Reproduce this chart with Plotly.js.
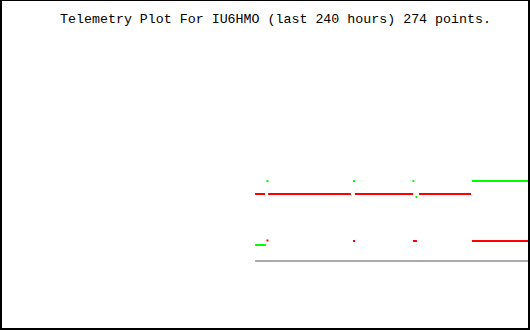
<!DOCTYPE html>
<html>
<head>
<meta charset="utf-8">
<script src="https://cdn.plot.ly/plotly-3.0.1.min.js"></script>
<style>html,body{margin:0;padding:0;background:#fff;}#chart{width:530px;height:330px;}</style>
</head>
<body>
<div id="chart"></div>
<script>
// Hours relative to now (x) and telemetry values (arbitrary units)
var redHours    = [-124.5, -120.0, -119.3, -118.6, -81.1, -80.0, -79.3, -52.9, -51.5, -50.3, -26.7, -26.5, -53.0, -51.2, -50.0, -26.3, 0];
var redValues   = [136, 136, null, 136, 136, null, 136, 136, null, 136, 136, null, 89, 89, null, 89, 89];
var redDotHours  = [-118.9, -79.7];
var redDotValues = [89.5, 89];
var greenHours  = [-124.5, -119.6, -60, -26.3, 0];
var greenValues = [85, 85, null, 149, 149];
var greenDotHours  = [-118.9, -79.7, -52.8, -51.4];
var greenDotValues = [149, 149, 149, 133];
var grayHours  = [-124.5, 0];
var grayValues = [69, 69];
var titleText = "Telemetry Plot For IU6HMO (last 240 hours) 274 points.";

function lineTrace(x, y, c, w) {
  return {x: x, y: y, mode: 'lines', connectgaps: false, line: {color: c, width: w}, hoverinfo: 'skip'};
}
function dotTrace(x, y, c) {
  return {x: x, y: y, mode: 'markers', marker: {color: c, size: 2, symbol: 'square', line: {width: 0}}, hoverinfo: 'skip'};
}

var traces = [
  lineTrace(grayHours, grayValues, '#aaaaaa', 2),
  lineTrace(redHours, redValues, '#ff0000', 2),
  dotTrace(redDotHours, redDotValues, '#ff0000'),
  lineTrace(greenHours, greenValues, '#00ff00', 2),
  dotTrace(greenDotHours, greenDotValues, '#00ff00')
];

var layout = {
  width: 530, height: 330,
  margin: {l: 0, r: 0, t: 0, b: 0, pad: 0},
  paper_bgcolor: '#ffffff', plot_bgcolor: '#ffffff',
  showlegend: false,
  title: {text: titleText, font: {family: 'Liberation Mono, DejaVu Sans Mono, monospace', size: 13.3, color: '#000000'},
          x: 0.5198, xanchor: 'center', xref: 'container', y: 0.945, yanchor: 'middle', yref: 'container'},
  xaxis: {range: [-240, 0], visible: false, fixedrange: true},
  yaxis: {range: [0, 330], visible: false, fixedrange: true},
  shapes: [
    {type: 'line', xref: 'paper', yref: 'paper', x0: 1/530, x1: 1/530, y0: 0, y1: 1, line: {color: '#000', width: 2}},
    {type: 'line', xref: 'paper', yref: 'paper', x0: 529/530, x1: 529/530, y0: 0, y1: 1, line: {color: '#000', width: 2}},
    {type: 'line', xref: 'paper', yref: 'paper', x0: 0, x1: 1, y0: 1/330, y1: 1/330, line: {color: '#000', width: 2}},
    {type: 'line', xref: 'paper', yref: 'paper', x0: 0, x1: 1, y0: 1 - 0.5/330, y1: 1 - 0.5/330, line: {color: '#000', width: 1}}
  ]
};

Plotly.newPlot('chart', traces, layout, {staticPlot: true, displayModeBar: false});
</script>
</body>
</html>
